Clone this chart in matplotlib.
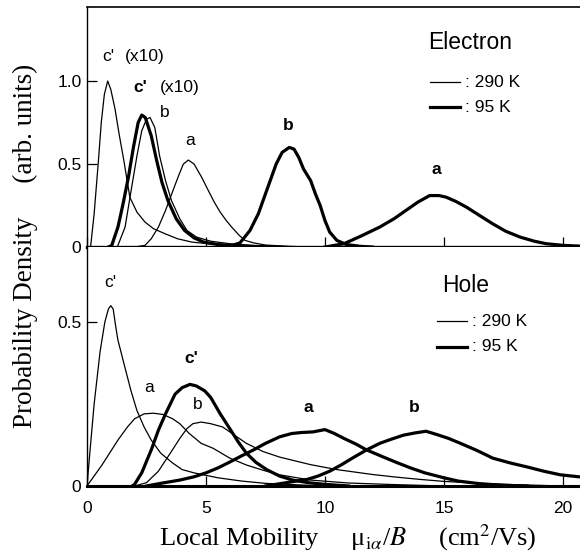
import numpy as np
import matplotlib
matplotlib.use("Agg")
import matplotlib.pyplot as plt

plt.rcParams['font.family'] = ['Liberation Sans', 'DejaVu Sans']
plt.rcParams['mathtext.fontset'] = 'stix'

# ---- Electron panel ----
# 290 K (thin)
el_c_290_x = [0.0, 0.15, 0.3, 0.48, 0.6, 0.73, 0.87, 1.0, 1.18, 1.35, 1.55, 1.8, 2.1, 2.44, 2.8,
              3.28, 3.8, 4.4, 5.2, 6.0, 7.0, 8.0]
el_c_290_y = [0.0, 0.0, 0.2, 0.52, 0.75, 0.92, 1.0, 0.95, 0.83, 0.68, 0.52, 0.3, 0.21, 0.15, 0.11,
              0.08, 0.05, 0.03, 0.018, 0.01, 0.005, 0.0]
el_b_290_x = [1.3, 1.6, 1.9, 2.1, 2.3, 2.5, 2.65, 2.85, 3.05, 3.3, 3.55, 3.9, 4.2, 4.6, 5.2, 6.0,
              7.0, 8.0, 9.0]
el_b_290_y = [0.01, 0.12, 0.38, 0.55, 0.7, 0.77, 0.78, 0.72, 0.55, 0.4, 0.28, 0.17, 0.1, 0.06,
              0.035, 0.02, 0.01, 0.005, 0.0]
el_a_290_x = [2.0, 2.44, 2.7, 3.0, 3.3, 3.56, 3.85, 4.05, 4.26, 4.5, 4.82, 5.1, 5.35, 5.6, 5.85,
              6.08, 6.4, 6.64, 7.0, 7.5, 8.5, 9.5]
el_a_290_y = [0.0, 0.01, 0.05, 0.12, 0.22, 0.32, 0.43, 0.5, 0.524, 0.5, 0.42, 0.34, 0.27, 0.21,
              0.16, 0.12, 0.07, 0.04, 0.025, 0.012, 0.004, 0.0]
# 95 K (thick)
el_c_95_x = [0.9, 1.04, 1.3, 1.5, 1.74, 1.95, 2.15, 2.3, 2.45, 2.7, 2.93, 3.15, 3.4, 3.75, 4.1,
             4.5, 4.9, 5.5, 6.5, 7.5]
el_c_95_y = [0.0, 0.01, 0.12, 0.25, 0.42, 0.6, 0.75, 0.795, 0.78, 0.67, 0.52, 0.39, 0.28, 0.17,
             0.1, 0.055, 0.03, 0.015, 0.005, 0.0]
el_b_95_x = [5.5, 6.0, 6.43, 6.85, 7.2, 7.45, 7.7, 7.95, 8.2, 8.5, 8.7, 8.9, 9.1, 9.4, 9.6, 9.8,
             10.0, 10.2, 10.5, 10.9, 11.5, 12.0]
el_b_95_y = [0.0, 0.005, 0.025, 0.1, 0.2, 0.3, 0.4, 0.5, 0.57, 0.6, 0.59, 0.54, 0.47, 0.4, 0.32,
             0.25, 0.16, 0.09, 0.04, 0.015, 0.004, 0.0]
el_a_95_x = [10.0, 10.8, 11.5, 12.3, 12.9, 13.4, 13.9, 14.4, 14.8, 15.1, 15.5, 15.95, 16.5, 17.05,
             17.6, 18.2, 18.8, 19.3, 20.0, 20.8]
el_a_95_y = [0.0, 0.02, 0.065, 0.12, 0.17, 0.22, 0.27, 0.31, 0.31, 0.30, 0.275, 0.24, 0.19, 0.14,
             0.095, 0.06, 0.035, 0.02, 0.01, 0.005]

# ---- Hole panel ----
# 290 K (thin)
ho_c_290_x = [0.0, 0.13, 0.3, 0.55, 0.75, 0.9, 1.0, 1.1, 1.2, 1.3, 1.6, 1.85, 2.1, 2.4, 2.7, 3.1,
              3.6, 4.0, 4.5, 5.5, 6.5, 7.5, 9.0, 10.0]
ho_c_290_y = [0.0, 0.11, 0.25, 0.41, 0.5, 0.54, 0.55, 0.54, 0.49, 0.445, 0.36, 0.29, 0.23, 0.18,
              0.14, 0.1, 0.07, 0.05, 0.04, 0.025, 0.015, 0.008, 0.003, 0.0]
ho_a_290_x = [0.0, 0.63, 1.3, 1.7, 2.0, 2.4, 2.8, 3.2, 3.6, 3.9, 4.3, 4.8, 5.3, 6.0, 6.7, 7.4,
              8.1, 9.4, 11.0, 13.0, 15.0]
ho_a_290_y = [0.0, 0.064, 0.14, 0.18, 0.205, 0.22, 0.222, 0.218, 0.205, 0.19, 0.16, 0.13, 0.115,
              0.085, 0.064, 0.048, 0.034, 0.018, 0.009, 0.004, 0.0]
ho_b_290_x = [2.0, 2.5, 3.0, 3.5, 3.9, 4.2, 4.45, 4.8, 5.2, 5.7, 6.2, 6.7, 7.4, 8.1, 9.4, 10.5,
              12.0, 13.0, 14.0, 15.0, 16.5, 18.0, 20.0]
ho_b_290_y = [0.0, 0.01, 0.045, 0.1, 0.145, 0.175, 0.19, 0.195, 0.19, 0.18, 0.155, 0.13, 0.105,
              0.088, 0.065, 0.05, 0.035, 0.027, 0.02, 0.014, 0.008, 0.004, 0.0]
# 95 K (thick)
ho_c_95_x = [1.9, 2.0, 2.3, 2.7, 3.0, 3.3, 3.7, 4.0, 4.33, 4.6, 4.95, 5.2, 5.6, 6.0, 6.35, 6.7,
             7.1, 7.55, 8.1, 8.65, 9.3, 10.0, 11.0]
ho_c_95_y = [0.0, 0.005, 0.04, 0.11, 0.17, 0.22, 0.28, 0.3, 0.31, 0.305, 0.29, 0.27, 0.22, 0.175,
             0.135, 0.1, 0.072, 0.05, 0.03, 0.018, 0.01, 0.005, 0.0]
ho_a_95_x = [2.5, 3.1, 3.9, 4.5, 5.0, 5.5, 6.0, 6.5, 7.0, 7.5, 8.1, 8.6, 9.0, 9.5, 10.0, 10.4,
             10.8, 11.3, 11.75, 12.4, 13.0, 13.6, 14.2, 15.0, 15.6, 16.5, 17.5, 18.5]
ho_a_95_y = [0.0, 0.008, 0.018, 0.028, 0.04, 0.055, 0.073, 0.092, 0.11, 0.13, 0.15, 0.16, 0.163,
             0.165, 0.172, 0.16, 0.145, 0.128, 0.11, 0.09, 0.072, 0.055, 0.04, 0.025, 0.015,
             0.007, 0.002, 0.0]
ho_b_95_x = [7.5, 8.2, 8.8, 9.25, 9.7, 10.2, 10.7, 11.2, 11.75, 12.3, 12.8, 13.3, 13.8, 14.25,
             14.7, 15.2, 15.7, 16.4, 17.05, 17.8, 18.5, 19.2, 19.9, 20.8]
ho_b_95_y = [0.0, 0.008, 0.015, 0.02, 0.03, 0.045, 0.065, 0.087, 0.11, 0.13, 0.143, 0.155, 0.162,
             0.167, 0.157, 0.145, 0.13, 0.108, 0.085, 0.07, 0.058, 0.045, 0.034, 0.027]

thin = 0.9
thick = 2.3
serif = ['Liberation Serif', 'DejaVu Serif']

fig = plt.figure(figsize=(5.8, 5.53), dpi=100)
ax_e = fig.add_axes([0.15, 0.5533, 0.85, 0.4340])
ax_h = fig.add_axes([0.15, 0.1212, 0.85, 0.4321])

for x, y in [(el_c_290_x, el_c_290_y), (el_b_290_x, el_b_290_y), (el_a_290_x, el_a_290_y)]:
    ax_e.plot(x, y, color='black', lw=thin)
for x, y in [(el_c_95_x, el_c_95_y), (el_b_95_x, el_b_95_y), (el_a_95_x, el_a_95_y)]:
    ax_e.plot(x, y, color='black', lw=thick)
for x, y in [(ho_c_290_x, ho_c_290_y), (ho_a_290_x, ho_a_290_y), (ho_b_290_x, ho_b_290_y)]:
    ax_h.plot(x, y, color='black', lw=thin)
for x, y in [(ho_c_95_x, ho_c_95_y), (ho_a_95_x, ho_a_95_y), (ho_b_95_x, ho_b_95_y)]:
    ax_h.plot(x, y, color='black', lw=thick)

ax_e.set_ylim(0, 1.446)
ax_h.set_ylim(0, 0.729)
for ax in (ax_e, ax_h):
    ax.set_xlim(0, 20.72)
    ax.spines['right'].set_visible(False)
    ax.spines['left'].set_linewidth(1.0)
    ax.spines['top'].set_linewidth(1.2)
    ax.spines['bottom'].set_linewidth(2.2)
    ax.set_xticks([0, 5, 10, 15, 20])
    ax.tick_params(direction='in', length=7, width=0.9, labelsize=12.5, right=False, top=False)
    ax.tick_params(axis='y', pad=4)
ax_e.spines['bottom'].set_linewidth(2.4)
ax_h.spines['top'].set_visible(False)
ax_e.set_yticks([0, 0.5, 1.0])
ax_e.set_yticklabels(['0', '0.5', '1.0'])
ax_e.set_xticklabels([])
ax_h.set_yticks([0, 0.5])
ax_h.set_yticklabels(['0', '0.5'])
ax_h.tick_params(axis='x', pad=11)

fs = 12.5
# electron labels
ax_e.text(0.63, 1.145, "c'", fontsize=fs, va='center')
ax_e.text(1.6, 1.145, "(x10)", fontsize=fs, va='center')
ax_e.text(1.93, 0.96, "c'", fontsize=fs, fontweight='bold', va='center')
ax_e.text(3.07, 0.96, "(x10)", fontsize=fs, va='center')
ax_e.text(3.28, 0.81, "b", fontsize=fs, ha='center', va='center')
ax_e.text(4.33, 0.64, "a", fontsize=fs, ha='center', va='center')
ax_e.text(8.45, 0.73, "b", fontsize=fs, fontweight='bold', ha='center', va='center')
ax_e.text(14.7, 0.47, "a", fontsize=fs, fontweight='bold', ha='center', va='center')
ax_e.text(16.1, 1.23, "Electron", fontsize=16.5, ha='center', va='center')
ax_e.plot([14.41, 15.67], [0.994, 0.994], color='black', lw=thin)
ax_e.plot([14.41, 15.67], [0.843, 0.843], color='black', lw=thick)
ax_e.text(15.88, 0.994, ": 290 K", fontsize=fs, va='center')
ax_e.text(15.88, 0.843, ": 95 K", fontsize=fs, va='center')

# hole labels
ax_h.text(0.97, 0.62, "c'", fontsize=fs, ha='center', va='center')
ax_h.text(2.6, 0.30, "a", fontsize=fs, ha='center', va='center')
ax_h.text(4.37, 0.39, "c'", fontsize=fs, fontweight='bold', ha='center', va='center')
ax_h.text(4.66, 0.25, "b", fontsize=fs, ha='center', va='center')
ax_h.text(9.3, 0.24, "a", fontsize=fs, fontweight='bold', ha='center', va='center')
ax_h.text(13.75, 0.24, "b", fontsize=fs, fontweight='bold', ha='center', va='center')
ax_h.text(15.92, 0.613, "Hole", fontsize=16.5, ha='center', va='center')
ax_h.plot([14.7, 15.97], [0.503, 0.503], color='black', lw=thin)
ax_h.plot([14.7, 15.97], [0.424, 0.424], color='black', lw=thick)
ax_h.text(16.2, 0.503, ": 290 K", fontsize=fs, va='center')
ax_h.text(16.2, 0.424, ": 95 K", fontsize=fs, va='center')

fig.text(0.043, 0.555, "Probability Density     (arb. units)", rotation=90,
         ha='center', va='center', fontsize=19.5, family=serif)
fig.text(0.600, 0.027,
         "Local Mobility     \u03bc$_{\\mathrm{i}\\alpha}$/$B$     (cm$^2$/Vs)",
         ha='center', va='center', fontsize=19, family=serif)

fig.savefig('out.png', dpi=100)
